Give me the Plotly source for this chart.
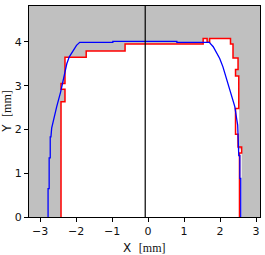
import plotly.graph_objects as go

# Red measured profile (step outline), mm
red_x = [-2.42, -2.42, -2.31, -2.31, -2.42, -2.42, -2.31, -2.31, -1.72, -1.72, -0.64, -0.64,
         1.53, 1.53, 1.64, 1.64, 1.71, 1.71, 2.29, 2.29, 2.36, 2.36, 2.50, 2.50, 2.43, 2.43,
         2.52, 2.52, 2.43, 2.43, 2.50, 2.50, 2.60, 2.60, 2.54, 2.54]
red_y = [0, 2.63, 2.63, 2.92, 2.92, 3.05, 3.05, 3.65, 3.65, 3.79, 3.79, 3.95,
         3.95, 4.08, 4.08, 3.99, 3.99, 4.08, 4.08, 3.95, 3.95, 3.63, 3.63, 3.37, 3.37, 3.22,
         3.22, 2.48, 2.48, 1.89, 1.89, 1.60, 1.60, 1.46, 1.46, 0]

# Boundary of the unshaded (white) area
open_x = [-2.42, -2.42, -2.31, -2.31, -2.42, -2.42, -2.31, -2.31, -1.72, -1.72, -0.64, -0.64,
          1.53, 1.53, 1.64, 1.64, 1.71, 1.71, 2.29, 2.29, 2.36, 2.36, 2.50, 2.50, 2.43, 2.43,
          2.53, 2.53, 2.60, 2.60]
open_y = [0, 2.63, 2.63, 2.92, 2.92, 3.05, 3.05, 3.65, 3.65, 3.79, 3.79, 3.95,
          3.95, 4.08, 4.08, 3.99, 3.99, 4.08, 4.08, 3.95, 3.95, 3.63, 3.63, 3.37, 3.37, 3.22,
          3.22, 1.55, 1.55, 0]

# Blue nominal profile, mm
blue_x = [-2.78, -2.78, -2.75, -2.75, -2.72, -2.72, -2.70, -2.68, -2.61, -2.54, -2.43, -2.37,
          -2.31, -2.26, -2.19, -2.08, -1.99, -1.90, -0.98, -0.98, 0.80, 0.80, 1.70,
          1.81, 1.90, 1.99, 2.08, 2.16, 2.22, 2.32, 2.41, 2.46, 2.49, 2.50, 2.50, 2.52, 2.52,
          2.55, 2.55, 2.575, 2.575]
blue_y = [0, 0.65, 0.65, 1.35, 1.35, 1.83, 1.83, 2.03, 2.30, 2.52, 2.86, 3.10,
          3.36, 3.50, 3.66, 3.81, 3.92, 3.99, 3.99, 4.01, 4.01, 3.99, 3.99,
          3.89, 3.77, 3.62, 3.43, 3.22, 3.01, 2.79, 2.52, 2.25, 2.10, 1.87, 1.80, 1.80, 1.40,
          1.40, 0.88, 0.88, 0]

center_x = [-0.08, -0.08]
center_y = [0, 4.82]

x_ticks = [-3, -2, -1, 0, 1, 2, 3]
y_ticks = [0, 1, 2, 3, 4]
x_range = [-3.31, 3.11]
y_range = [0, 4.82]

fig = go.Figure()
fig.add_trace(go.Scatter(x=open_x, y=open_y, mode="lines", fill="toself",
                         fillcolor="white", line=dict(width=0), hoverinfo="skip"))
fig.add_trace(go.Scatter(x=red_x, y=red_y, mode="lines",
                         line=dict(color="#ff0000", width=1.5)))
fig.add_trace(go.Scatter(x=blue_x, y=blue_y, mode="lines",
                         line=dict(color="#0000ff", width=1.3)))
fig.add_trace(go.Scatter(x=center_x, y=center_y, mode="lines",
                         line=dict(color="black", width=1.2)))

axis_common = dict(showgrid=False, zeroline=False, showline=True, mirror=True,
                   linecolor="black", linewidth=1.3, ticks="outside", ticklen=4,
                   tickcolor="black", tickwidth=1, automargin=False,
                   tickfont=dict(family="DejaVu Sans", size=11, color="#111"))

title_font = dict(family="DejaVu Sans", size=12, color="#111")

fig.update_layout(
    width=265, height=255,
    margin=dict(l=29, r=5, t=6, b=38),
    paper_bgcolor="white", plot_bgcolor="#c0c0c0",
    showlegend=False,
    xaxis=dict(range=x_range, tickvals=x_ticks,
               ticktext=["\u22123", "\u22122", "\u22121", "0", "1", "2", "3"],
               **axis_common),
    yaxis=dict(range=y_range, tickvals=y_ticks, **axis_common),
    annotations=[
        dict(text="X  <span style='font-family:Liberation Serif'>[mm]</span>",
             xref="paper", yref="paper", x=0.498, y=-0.147,
             xanchor="center", yanchor="middle", showarrow=False, font=title_font),
        dict(text="Y  <span style='font-family:Liberation Serif'>[mm]</span>",
             xref="paper", yref="paper", x=-0.098, y=0.5, textangle=-90,
             xanchor="center", yanchor="middle", showarrow=False, font=title_font),
    ],
)

fig.write_html("out.html", config={"displayModeBar": False},
               post_script="document.body.style.margin='0';")
